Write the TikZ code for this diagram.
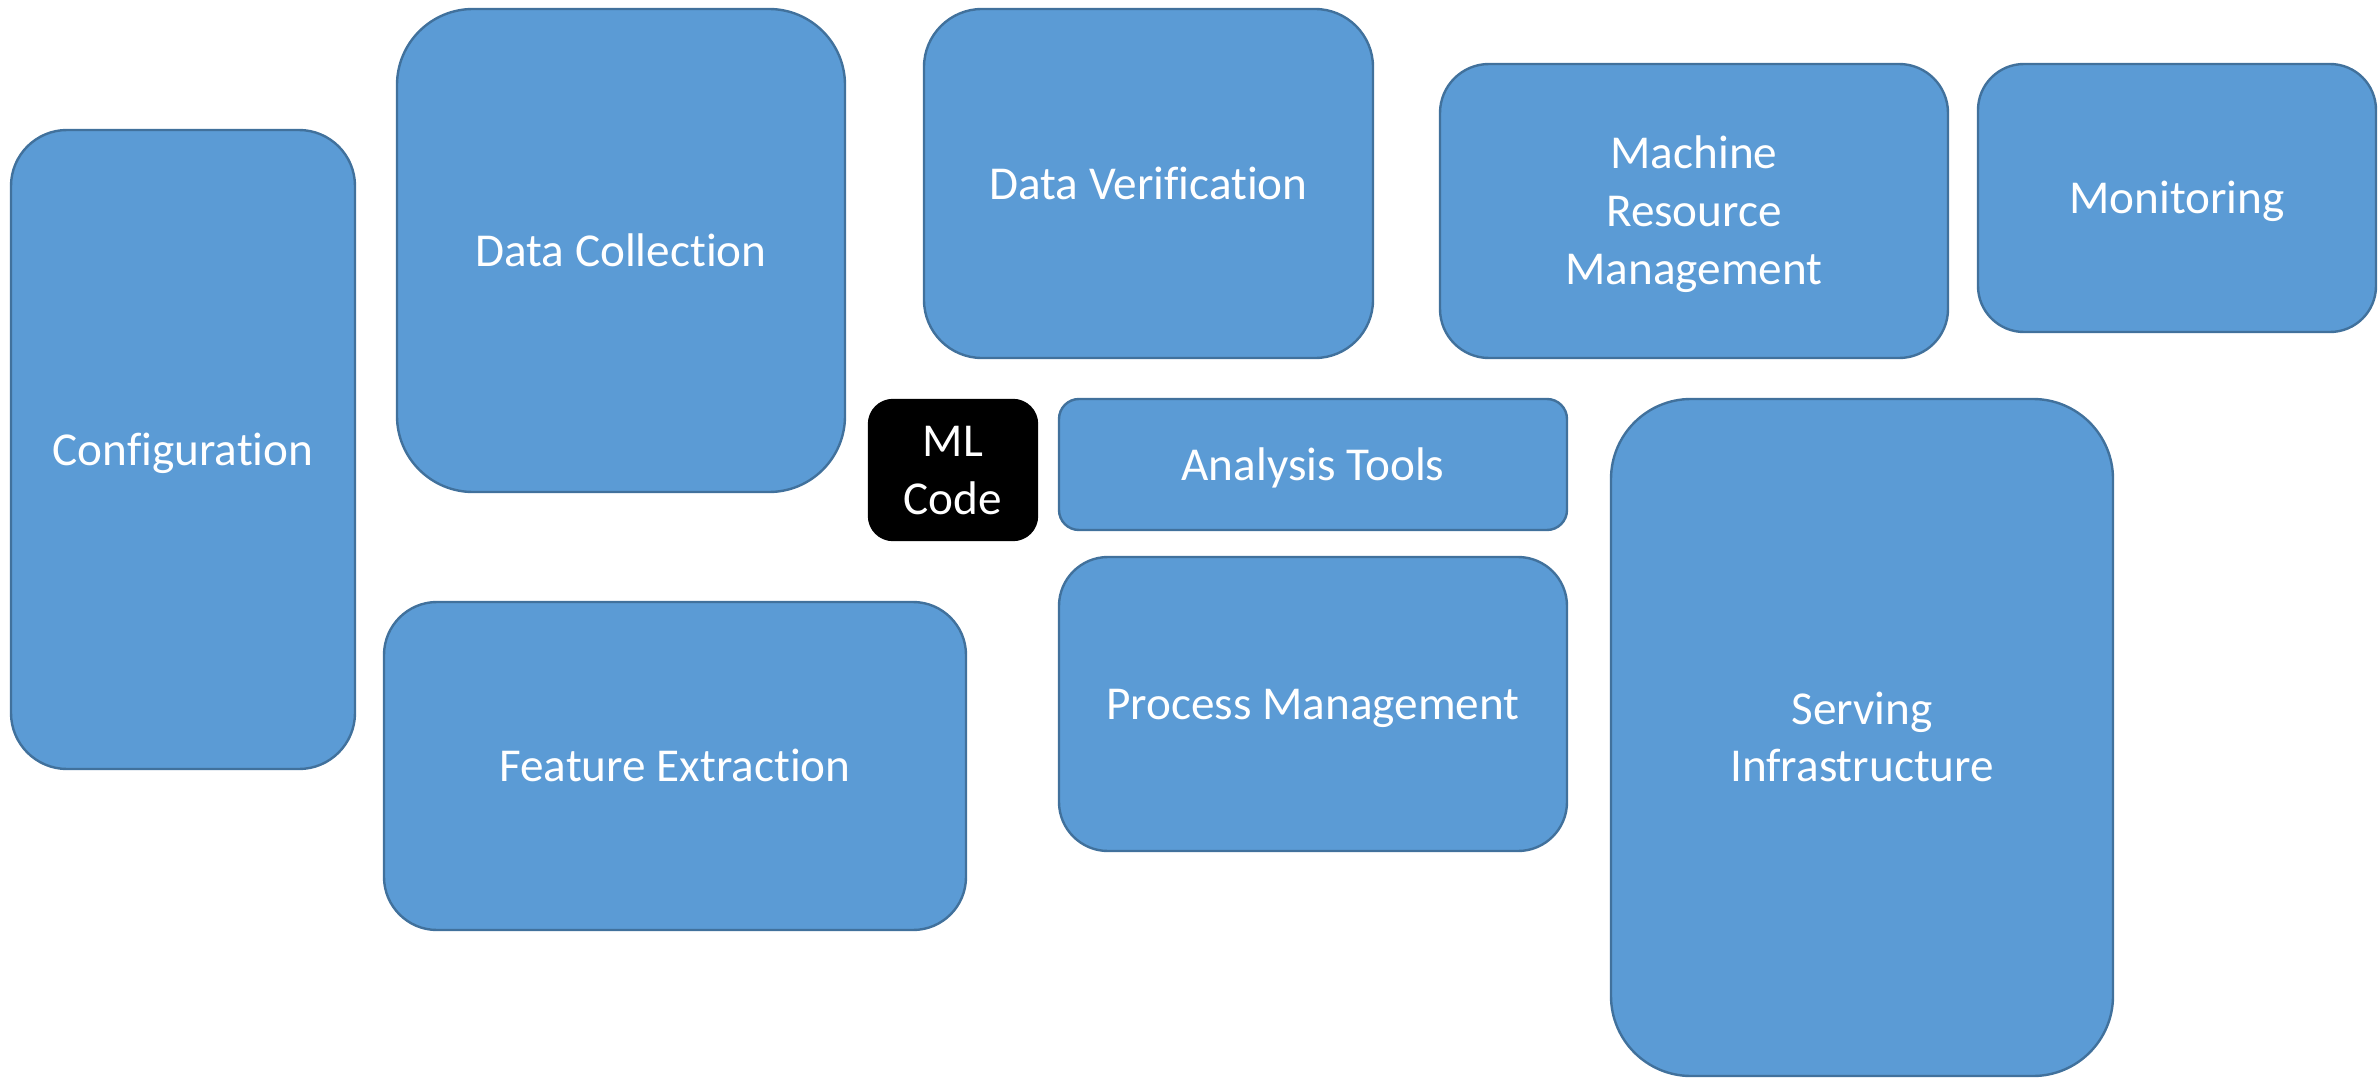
\documentclass[tikz,border=0pt]{standalone}
\usepackage{fontspec}
\setmainfont{Carlito}[Ligatures=NoCommon]
\definecolor{boxfill}{HTML}{5B9BD5}
\definecolor{boxline}{HTML}{41719C}
\tikzset{
  blk/.style={draw=boxline, fill=boxfill, line width=1.2pt, inner sep=0pt, outer sep=0pt, anchor=center},
  mlbox/.style={blk, fill=black, draw=black},
  txt/.style={text=white, align=center, font=\fontsize{23.6}{28.8}\selectfont, inner sep=0pt, anchor=base},
  one/.style={yshift=-7.75pt},
  two/.style={yshift=-22.15pt},
  three/.style={yshift=-36.55pt}
}
\begin{document}
\begin{tikzpicture}[x=0.5pt,y=-0.5pt]
\path[use as bounding box] (0,0) rectangle (2379,1081);
\node[blk, minimum width=172pt, minimum height=319.5pt, rounded corners=28pt] (conf) at (183,449.5) {};
\node[blk, minimum width=224pt, minimum height=241.5pt, rounded corners=38pt] (dc) at (621,250.5) {};
\node[blk, minimum width=224.5pt, minimum height=174.5pt, rounded corners=29pt] (dv) at (1148.5,183.5) {};
\node[blk, minimum width=254pt, minimum height=147pt, rounded corners=24.5pt] (mrm) at (1694,211) {};
\node[blk, minimum width=199pt, minimum height=134pt, rounded corners=23pt] (mon) at (2177,198) {};
\node[mlbox, minimum width=84pt, minimum height=70pt, rounded corners=12pt] (ml) at (953,470) {};
\node[blk, minimum width=254pt, minimum height=65.5pt, rounded corners=10pt] (at) at (1313,464.5) {};
\node[blk, minimum width=254pt, minimum height=147pt, rounded corners=24.5pt] (pm) at (1313,704) {};
\node[blk, minimum width=291pt, minimum height=164pt, rounded corners=26.5pt] (fe) at (675,766) {};
\node[blk, minimum width=251pt, minimum height=338.5pt, rounded corners=40pt] (si) at (1862,737.5) {};

\node[txt, one] (conf-t) at (conf.center) {Configuration};
\node[txt, one] (dc-t) at (dc.center) {Data Collection};
\node[txt, one] (dv-t) at (dv.center) {Data Verification};
\node[txt, three] (mrm-t) at (mrm.center) {Machine\\Resource\\Management};
\node[txt, one] (mon-t) at (mon.center) {Monitoring};
\node[txt, two] (ml-t) at (ml.center) {ML\\Code};
\node[txt, one] (at-t) at (at.center) {Analysis Tools};
\node[txt, one] (pm-t) at (pm.center) {Process Management};
\node[txt, one] (fe-t) at (fe.center) {Feature Extraction};
\node[txt, two] (si-t) at (si.center) {Serving\\Infrastructure};
\end{tikzpicture}
\end{document}
